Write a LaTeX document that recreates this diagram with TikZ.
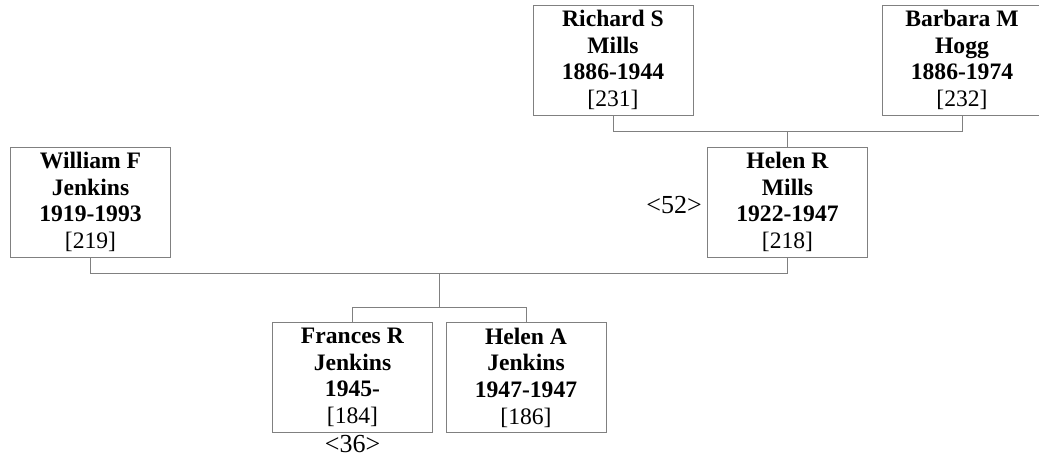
\documentclass[tikz,border=0pt]{standalone}
\usepackage{fontspec}
\setmainfont{Liberation Serif}
\usetikzlibrary{positioning}
\definecolor{boxgray}{RGB}{128,128,128}
\begin{document}
\begin{tikzpicture}[x=1pt,y=-1pt,
  person/.style={draw=boxgray, line width=1pt, minimum width=160pt,
    minimum height=110pt, inner sep=0pt, align=center,
    font=\fontsize{23.6}{26.6}\selectfont},
  link/.style={draw=boxgray, line width=1pt},
  gen/.style={inner sep=0pt, font=\fontsize{26}{28}\selectfont}]
  \useasboundingbox (0,0) rectangle (1039,461);
  % grandparents
  \node[person] (richard) at (613,60) {\textbf{Richard S}\\\textbf{Mills}\\\textbf{1886-1944}\\{[231]}};
  \node[person] (barbara) at (962,60) {\textbf{Barbara M}\\\textbf{Hogg}\\\textbf{1886-1974}\\{[232]}};
  % parents
  \node[person] (william) at (90.5,202) {\textbf{William F}\\\textbf{Jenkins}\\\textbf{1919-1993}\\{[219]}};
  \node[person] (helenr) at (787.5,202) {\textbf{Helen R}\\\textbf{Mills}\\\textbf{1922-1947}\\{[218]}};
  \node[gen, left=5pt of helenr, yshift=-3pt] (gap52) {<52>};
  % children
  \node[person] (frances) at (352.5,377.5) {\textbf{Frances R}\\\textbf{Jenkins}\\\textbf{1945-}\\{[184]}};
  \node[person] (helena) at (526,377.5) {\textbf{Helen A}\\\textbf{Jenkins}\\\textbf{1947-1947}\\{[186]}};
  \node[gen, below=2pt of frances] (gap36) {<36>};
  % lines
  \draw[link] (richard.south) -- ++(0,16) -| (barbara.south);
  \draw[link] (helenr.north) -- ++(0,-16);
  \draw[link] (william.south) -- ++(0,16) coordinate (wj) -| (helenr.south);
  \draw[link] (frances.north) -- ++(0,-15) coordinate (kids) -| (helena.north);
  \draw[link] (wj -| 439,0) -- (kids -| 439,0);
\end{tikzpicture}
\end{document}
